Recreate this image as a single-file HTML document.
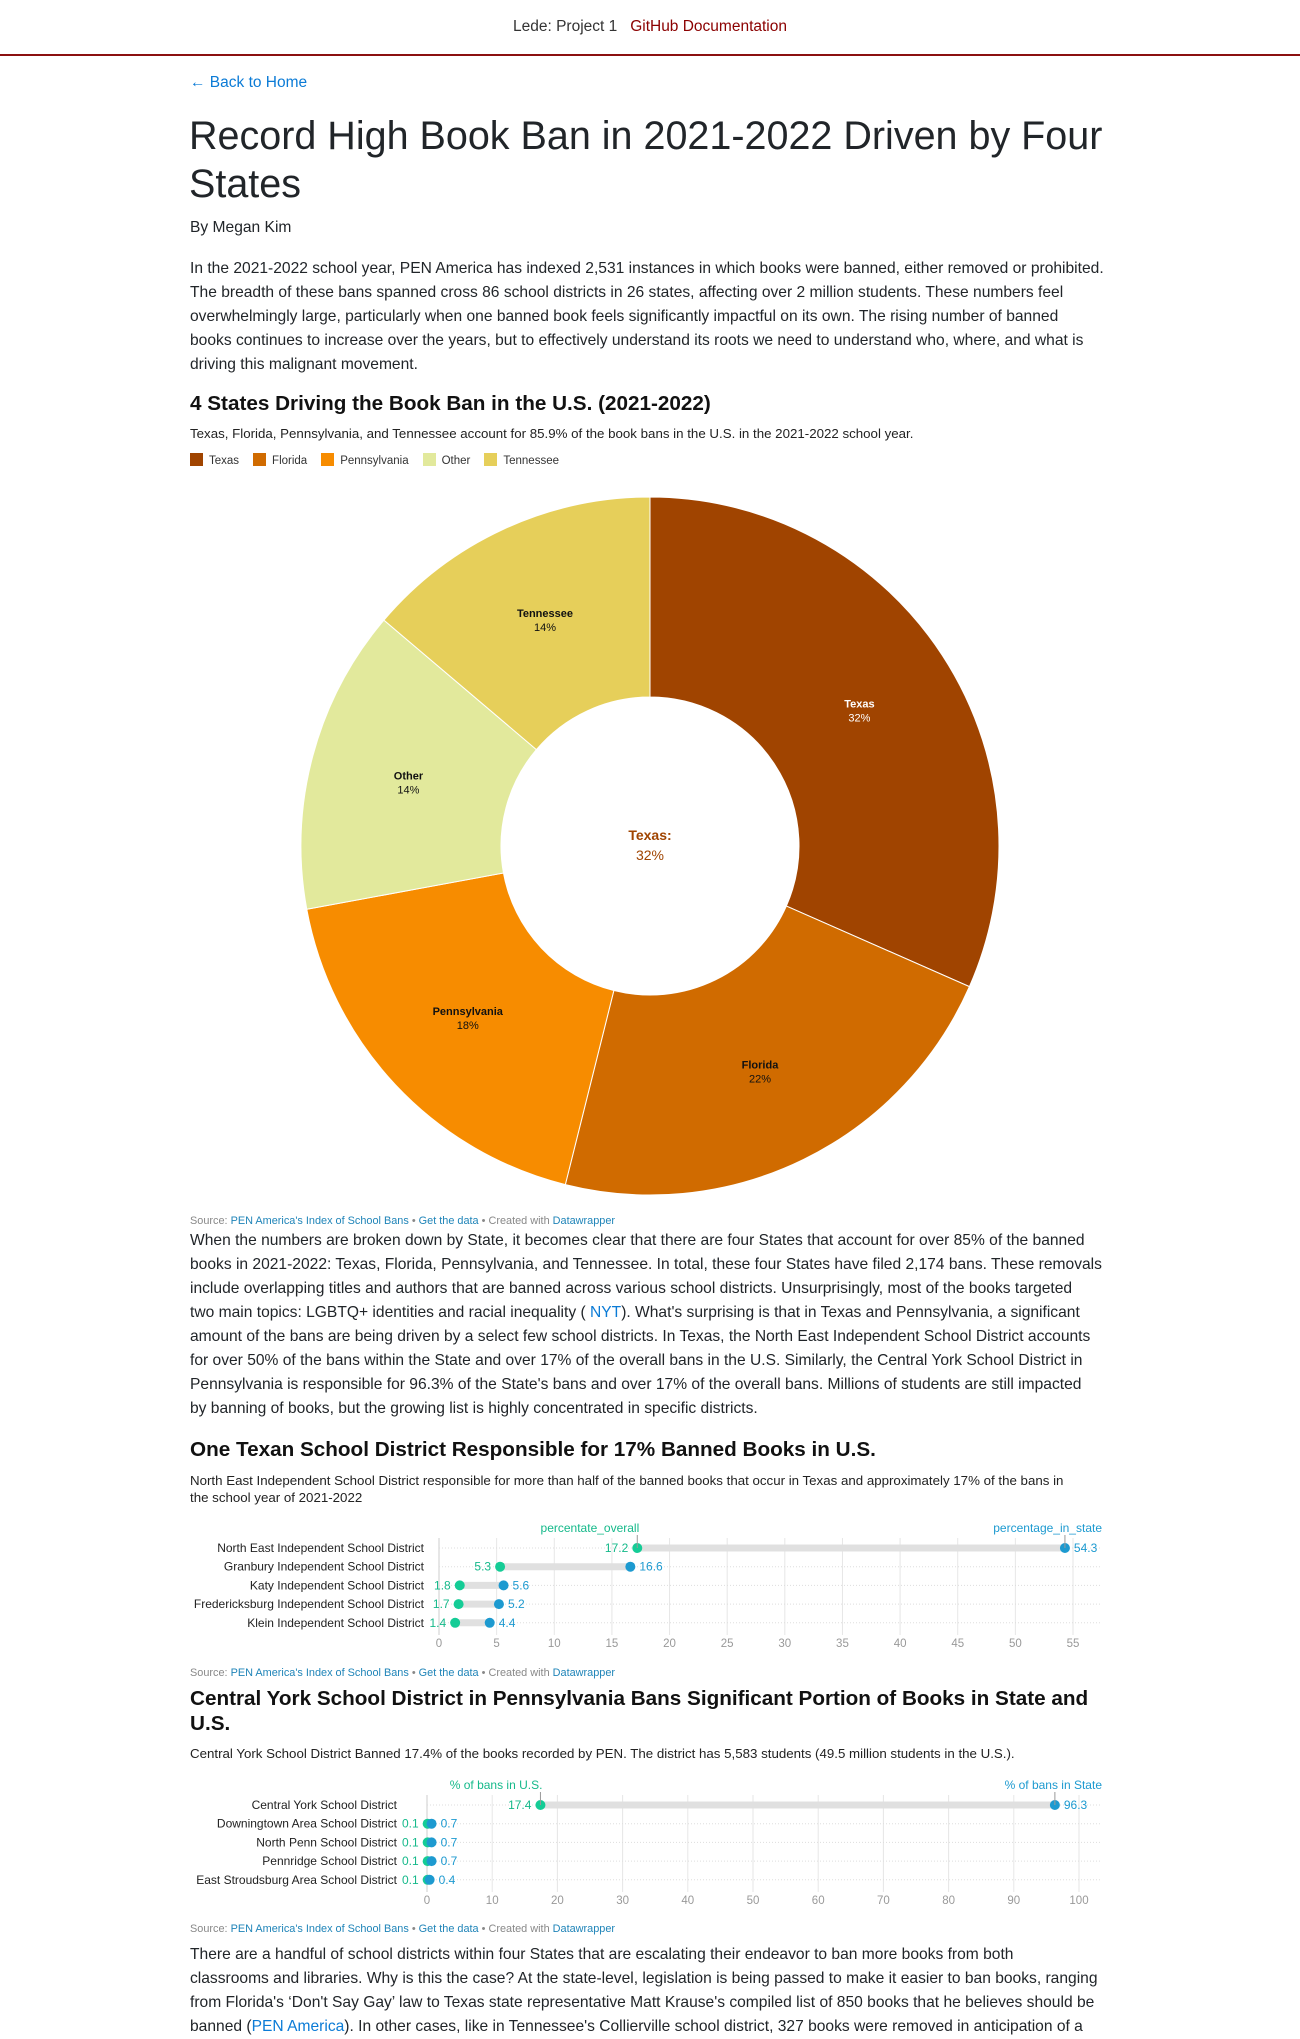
<!DOCTYPE html>
<html><head><meta charset="utf-8">
<style>
body{margin:0;width:1300px;height:2035px;background:#fff;font-family:"Liberation Sans",Arial,sans-serif;color:#212529;position:relative;overflow:hidden}
.a{position:absolute;white-space:nowrap}
a{color:#0b7bd6;text-decoration:none}
.p{font-size:15.6px;line-height:24px;color:#212529}
.h2{font-size:20.7px;font-weight:bold;color:#111}
.sub{font-size:13.3px;color:#222}
.src{font-size:10.9px;color:#888}
.src span{color:#1f84b8}
</style></head><body>
<div class="a" style="left:0;width:1300px;top:18px;text-align:center;font-size:15.5px;color:#333">Lede: Project 1 &nbsp; <a style="color:#8b0000">GitHub Documentation</a></div>
<div class="a" style="left:0;top:54px;width:1300px;height:2px;background:#8b1010"></div>
<a class="a" style="left:190px;top:74px;font-size:15.5px">← Back to Home</a>
<div class="a" style="left:189px;top:112px;font-size:39.5px;line-height:48px;color:#212529">Record High Book Ban in 2021-2022 Driven by Four<br>States</div>
<div class="a p" style="left:190px;top:216px">By Megan Kim</div>
<div class="a p" style="left:190px;top:257px">In the 2021-2022 school year, PEN America has indexed 2,531 instances in which books were banned, either removed or prohibited.<br>The breadth of these bans spanned cross 86 school districts in 26 states, affecting over 2 million students. These numbers feel<br>overwhelmingly large, particularly when one banned book feels significantly impactful on its own. The rising number of banned<br>books continues to increase over the years, but to effectively understand its roots we need to understand who, where, and what is<br>driving this malignant movement.</div>
<div class="a h2" style="left:190px;top:392px">4 States Driving the Book Ban in the U.S. (2021-2022)</div>
<div class="a sub" style="left:190px;top:426px">Texas, Florida, Pennsylvania, and Tennessee account for 85.9% of the book bans in the U.S. in the 2021-2022 school year.</div>
<div class="a" id="legend" style="left:190px;top:453px;font-size:11.5px;color:#333"></div>
<svg class="a" id="donut" style="left:0;top:0" width="1300" height="1220"></svg>
<div class="a src" style="left:190px;top:1215px">Source: <span>PEN America's Index of School Bans</span> • <span>Get the data</span> • Created with <span>Datawrapper</span></div>
<div class="a p" style="left:190px;top:1229px">When the numbers are broken down by State, it becomes clear that there are four States that account for over 85% of the banned<br>books in 2021-2022: Texas, Florida, Pennsylvania, and Tennessee. In total, these four States have filed 2,174 bans. These removals<br>include overlapping titles and authors that are banned across various school districts. Unsurprisingly, most of the books targeted<br>two main topics: LGBTQ+ identities and racial inequality ( <a>NYT</a>). What's surprising is that in Texas and Pennsylvania, a significant<br>amount of the bans are being driven by a select few school districts. In Texas, the North East Independent School District accounts<br>for over 50% of the bans within the State and over 17% of the overall bans in the U.S. Similarly, the Central York School District in<br>Pennsylvania is responsible for 96.3% of the State's bans and over 17% of the overall bans. Millions of students are still impacted<br>by banning of books, but the growing list is highly concentrated in specific districts.</div>
<div class="a h2" style="left:190px;top:1438px">One Texan School District Responsible for 17% Banned Books in U.S.</div>
<div class="a sub" style="left:190px;top:1472px;line-height:17px">North East Independent School District responsible for more than half of the banned books that occur in Texas and approximately 17% of the bans in<br>the school year of 2021-2022</div>
<svg class="a" id="tx" style="left:0;top:1513px" width="1300" height="150"></svg>
<div class="a src" style="left:190px;top:1667px">Source: <span>PEN America's Index of School Bans</span> • <span>Get the data</span> • Created with <span>Datawrapper</span></div>
<div class="a h2" style="left:190px;top:1686px;line-height:25px">Central York School District in Pennsylvania Bans Significant Portion of Books in State and<br>U.S.</div>
<div class="a sub" style="left:190px;top:1746px">Central York School District Banned 17.4% of the books recorded by PEN. The district has 5,583 students (49.5 million students in the U.S.).</div>
<svg class="a" id="pa" style="left:0;top:1770px" width="1300" height="150"></svg>
<div class="a src" style="left:190px;top:1923px">Source: <span>PEN America's Index of School Bans</span> • <span>Get the data</span> • Created with <span>Datawrapper</span></div>
<div class="a p" style="left:190px;top:1943px">There are a handful of school districts within four States that are escalating their endeavor to ban more books from both<br>classrooms and libraries. Why is this the case? At the state-level, legislation is being passed to make it easier to ban books, ranging<br>from Florida's ‘Don't Say Gay’ law to Texas state representative Matt Krause's compiled list of 850 books that he believes should be<br>banned (<a>PEN America</a>). In other cases, like in Tennessee's Collierville school district, 327 books were removed in anticipation of a</div>
<script>
const states=["Texas","Florida","Pennsylvania","Other","Tennessee"];
const shares=[31.6,22.3,18.2,14.1,13.8];
const pctLabels=["32%","22%","18%","14%","14%"];
const colors=["#a04400","#d06b00","#f78c00","#e2e99c","#e6cf5a"];
const txCats=["North East Independent School District","Granbury Independent School District","Katy Independent School District","Fredericksburg Independent School District","Klein Independent School District"];
const txOverall=[17.2,5.3,1.8,1.7,1.4];
const txState=[54.3,16.6,5.6,5.2,4.4];
const txTicks=[0,5,10,15,20,25,30,35,40,45,50,55];
const paCats=["Central York School District","Downingtown Area School District","North Penn School District","Pennridge School District","East Stroudsburg Area School District"];
const paUS=[17.4,0.1,0.1,0.1,0.1];
const paState=[96.3,0.7,0.7,0.7,0.4];
const paTicks=[0,10,20,30,40,50,60,70,80,90,100];
const NS="http://www.w3.org/2000/svg";
function mk(p,t,at){const e=document.createElementNS(NS,t);for(const k in at)e.setAttribute(k,at[k]);p.appendChild(e);return e;}
const lg=document.getElementById('legend');
states.forEach((s,i)=>{const sp=document.createElement('span');


sp.style.marginRight='14px';sp.innerHTML='<i style="display:inline-block;width:13px;height:13px;background:'+colors[i]+';vertical-align:-2px;margin-right:6px"></i>'+s;lg.appendChild(sp);});
const dv=document.getElementById('donut');const cx=650,cy=846,R=349,r=149;
const total=shares.reduce((a,b)=>a+b,0);let acc=0;
function pt(a,rad){return [cx+rad*Math.sin(a),cy-rad*Math.cos(a)];}
shares.forEach((v,i)=>{const a0=acc/total*2*Math.PI;acc+=v;const a1=acc/total*2*Math.PI;const lf=(a1-a0)>Math.PI?1:0;
const [x0,y0]=pt(a0,R),[x1,y1]=pt(a1,R),[x2,y2]=pt(a1,r),[x3,y3]=pt(a0,r);
const p=mk(dv,'path',{d:`M${x0},${y0}A${R},${R} 0 ${lf} 1 ${x1},${y1}L${x2},${y2}A${r},${r} 0 ${lf} 0 ${x3},${y3}Z`,fill:colors[i],stroke:'#fff','stroke-width':1});


const [lx,ly]=pt((a0+a1)/2,250);const tc=i==0?'#fff':'#111';
const t=mk(dv,'text',{x:lx,y:ly-2,'text-anchor':'middle','font-size':11,'font-weight':'bold',fill:tc});t.textContent=states[i];


const t2=mk(dv,'text',{x:lx,y:ly+12,'text-anchor':'middle','font-size':11,fill:tc});t2.textContent=pctLabels[i];
});
const c1=mk(dv,'text',{x:cx,y:cy-6,'text-anchor':'middle','font-size':14,'font-weight':'bold',fill:colors[0]});c1.textContent=states[0]+':';


const c2=mk(dv,'text',{x:cx,y:cy+14,'text-anchor':'middle','font-size':14,fill:colors[0]});c2.textContent=pctLabels[0];
function dot(id,cats,a,b,ticks,x0,x1,maxV,labA,labB,labR){
const s=document.getElementById(id);const X=v=>x0+v/maxV*(x1-x0);const gridEnd=1102;
const rowY=i=>35+i*18.7, axY=134;
ticks.forEach(t=>{mk(s,'line',{x1:X(t),x2:X(t),y1:25,y2:122,stroke:t==0?'#ccc':'#e6e6e6'});
const tx=mk(s,'text',{x:X(t),y:axY,'text-anchor':'middle','font-size':11.5,fill:'#999'});tx.textContent=t;

});
cats.forEach((c,i)=>{const y=rowY(i);
mk(s,'line',{x1:x0,x2:gridEnd,y1:y,y2:y,stroke:'#ddd','stroke-dasharray':'1,2'});
const l=mk(s,'text',{x:labR,y:y+4,'text-anchor':'end','font-size':12,fill:'#222'});l.textContent=c;


mk(s,'line',{x1:X(a[i]),x2:X(b[i]),y1:y,y2:y,stroke:'#e0e0e0','stroke-width':7});
const d1=mk(s,'circle',{cx:X(a[i]),cy:y,r:5,fill:'#15cc96'});


const d2=mk(s,'circle',{cx:X(b[i]),cy:y,r:5,fill:'#1d9ad0'});


const va=mk(s,'text',{x:X(a[i])-9,y:y+4,'text-anchor':'end','font-size':12,fill:'#15b98a'});va.textContent=a[i];
const vb=mk(s,'text',{x:X(b[i])+9,y:y+4,'font-size':12,fill:'#1d9ad0'});vb.textContent=b[i];
if(i==0){mk(s,'line',{x1:X(a[0]),x2:X(a[0]),y1:22,y2:y,stroke:'#999'});mk(s,'line',{x1:X(b[0]),x2:X(b[0]),y1:22,y2:y,stroke:'#999'});
const ha=mk(s,'text',{x:X(a[0])+2,y:19,'text-anchor':'end','font-size':12,fill:'#15b98a'});ha.textContent=labA;
const hb=mk(s,'text',{x:gridEnd,y:19,'text-anchor':'end','font-size':12,fill:'#1d9ad0'});hb.textContent=labB;}
});}
dot('tx',txCats,txOverall,txState,txTicks,439,1073,55,'percentate_overall','percentage_in_state',424);
dot('pa',paCats,paUS,paState,paTicks,427,1079,100,'% of bans in U.S.','% of bans in State',397);
</script>
</body></html>
